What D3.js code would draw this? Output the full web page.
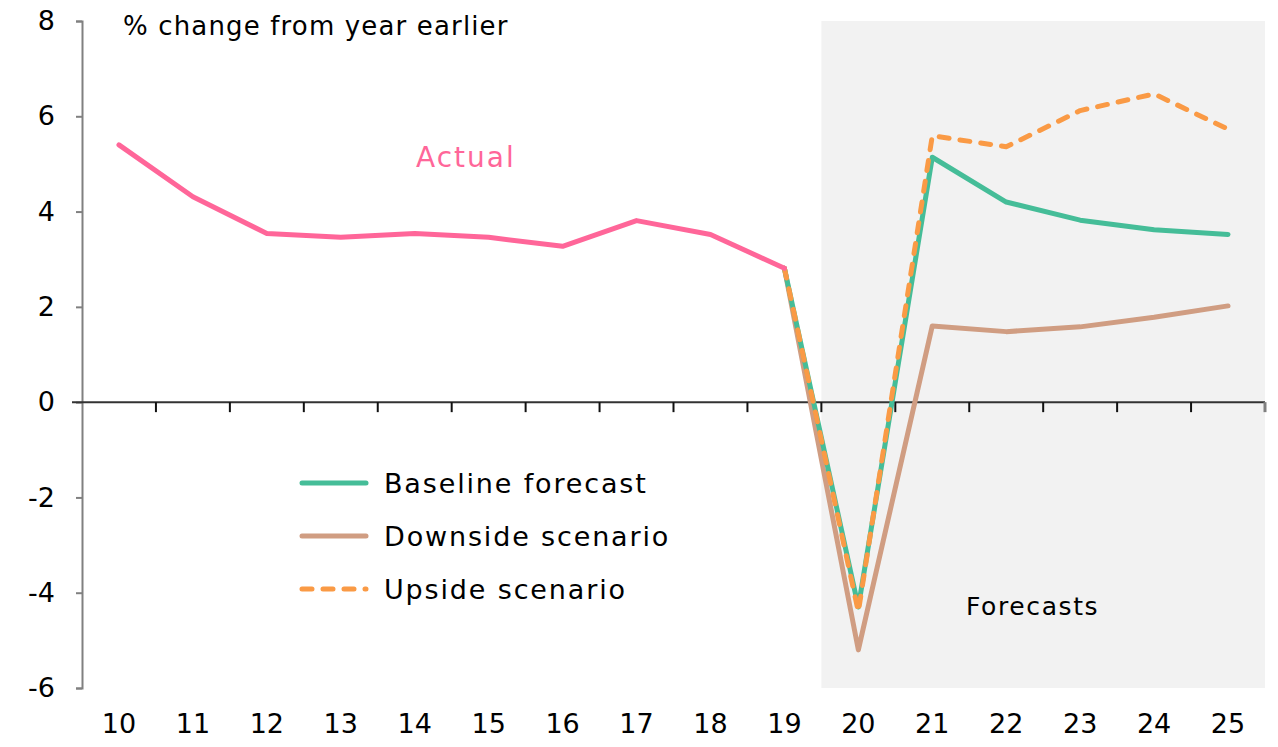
<!DOCTYPE html>
<html><head><meta charset="utf-8">
<script src="https://cdn.jsdelivr.net/npm/d3@7"></script>
<style>
body{margin:0;background:#fff;}
svg{display:block;}
text{font-family:"DejaVu Sans",sans-serif;}
</style></head>
<body><svg id="c" width="1278" height="747"></svg>
<script>
const years = ["10","11","12","13","14","15","16","17","18","19","20","21","22","23","24","25"];
const actualYears = ["10","11","12","13","14","15","16","17","18","19"];
const actualValues = [5.4, 4.31, 3.54, 3.46, 3.54, 3.46, 3.27, 3.81, 3.52, 2.81];
const forecastYears = ["19","20","21","22","23","24","25"];
const baselineValues = [2.81, -4.3, 5.14, 4.2, 3.82, 3.62, 3.52];
const downsideValues = [2.81, -5.2, 1.6, 1.48, 1.58, 1.78, 2.02];
const upsideValues = [2.81, -4.4, 5.59, 5.36, 6.12, 6.47, 5.73];
const yTicks = [-6,-4,-2,0,2,4,6,8];
const forecastStart = "20";

const svg = d3.select("#c");
const L = 82, R = 1265, T = 21, B = 688;
const x = d3.scaleBand().domain(years).range([L, R]).padding(0);
const y = d3.scaleLinear().domain([-6, 8]).range([B, T]);
const cx = d => x(d) + x.bandwidth()/2;

// forecast shading
svg.append("rect").attr("x", x(forecastStart)).attr("y", y(8))
  .attr("width", R - x(forecastStart)).attr("height", y(-6) - y(8))
  .attr("fill", "#f2f2f2");

// y axis
const ya = svg.append("g").attr("transform", `translate(${L},0)`)
  .call(d3.axisLeft(y).tickValues(yTicks).tickSize(6).tickPadding(21).tickFormat(d => String(d)));
ya.select(".domain").attr("stroke", "#808080").attr("stroke-width", 2);
ya.selectAll(".tick line").attr("stroke", "#808080").attr("stroke-width", 2);
ya.selectAll(".tick text").attr("font-size", 27).attr("fill", "#000").attr("font-family", "DejaVu Sans");

// zero line with boundary ticks
const zg = svg.append("g");
zg.append("line").attr("x1", L - 10).attr("x2", R).attr("y1", y(0)).attr("y2", y(0))
  .attr("stroke", "#333").attr("stroke-width", 2);
const bounds = years.slice(1).map(d => x(d)).concat([R]);
zg.selectAll("line.b").data(bounds).enter().append("line").attr("class","b")
  .attr("x1", d => d).attr("x2", d => d).attr("y1", y(0)).attr("y2", y(0) + 10)
  .attr("stroke", (d,i) => i === bounds.length-1 ? "#808080" : "#111")
  .attr("stroke-width", (d,i) => i === bounds.length-1 ? 3 : 2);

// x labels
const xa = svg.append("g").attr("transform", `translate(0,${B})`)
  .call(d3.axisBottom(x).tickSize(0).tickPadding(26));
xa.select(".domain").remove();
xa.selectAll(".tick text").attr("font-size", 27).attr("fill", "#000").attr("font-family", "DejaVu Sans");

const line = d3.line().x(d => cx(d.k)).y(d => y(d.v));
const zip = (ks, vs) => ks.map((k,i) => ({k, v: vs[i]}));
const W = 5;
const DASH = "10,11";

svg.append("path").datum(zip(forecastYears, downsideValues)).attr("d", line)
  .attr("fill","none").attr("stroke","#d09d82").attr("stroke-width",W).attr("stroke-linejoin","round").attr("stroke-linecap","round");
svg.append("path").datum(zip(forecastYears, baselineValues)).attr("d", line)
  .attr("fill","none").attr("stroke","#45bd98").attr("stroke-width",W).attr("stroke-linejoin","round").attr("stroke-linecap","round");
svg.append("path").datum(zip(forecastYears, upsideValues)).attr("d", line)
  .attr("fill","none").attr("stroke","#fa9a45").attr("stroke-width",W).attr("stroke-dasharray",DASH).attr("stroke-linejoin","round").attr("stroke-linecap","round");
svg.append("path").datum(zip(actualYears, actualValues)).attr("d", line)
  .attr("fill","none").attr("stroke","#ff6699").attr("stroke-width",W).attr("stroke-linejoin","round").attr("stroke-linecap","round");

// texts
svg.append("text").attr("x", 123).attr("y", 35).attr("font-size", 26).attr("letter-spacing", 1.15).text("% change from year earlier");
svg.append("text").attr("x", 416).attr("y", 167).attr("font-size", 28).attr("letter-spacing", 2).attr("fill","#ff6699").text("Actual");
svg.append("text").attr("x", 966).attr("y", 615).attr("font-size", 25).attr("letter-spacing", 1.6).text("Forecasts");

// legend
const legend = [
  {name:"Baseline forecast", color:"#45bd98", dash:null},
  {name:"Downside scenario", color:"#d09d82", dash:null},
  {name:"Upside scenario", color:"#fa9a45", dash:DASH}
];
const lg = svg.append("g");
legend.forEach((d,i) => {
  const yy = 483 + i*53;
  lg.append("line").attr("x1", 302).attr("x2", 366).attr("y1", yy).attr("y2", yy)
    .attr("stroke", d.color).attr("stroke-width", W).attr("stroke-linecap","round")
    .attr("stroke-dasharray", d.dash);
  lg.append("text").attr("x", 384).attr("y", yy + 10).attr("font-size", 27).attr("letter-spacing", 1.85).text(d.name);
});
</script></body></html>
